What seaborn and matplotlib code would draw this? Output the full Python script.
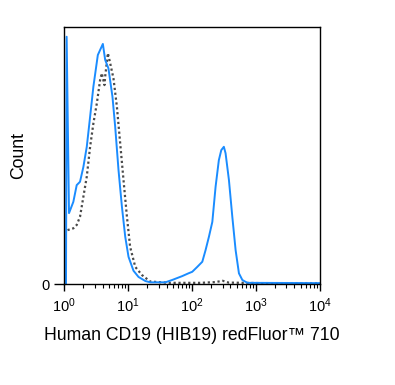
import numpy as np
import pandas as pd
import matplotlib
matplotlib.use('Agg')
import matplotlib.pyplot as plt
import seaborn as sns

sns.set_style('white')
plt.rcParams['font.family'] = ['Liberation Sans', 'DejaVu Sans']
plt.rcParams['mathtext.fontset'] = 'custom'
plt.rcParams['mathtext.rm'] = 'Liberation Sans'
plt.rcParams['text.color'] = 'black'
plt.rcParams['axes.labelcolor'] = 'black'
plt.rcParams['xtick.color'] = 'black'
plt.rcParams['ytick.color'] = 'black'

# stained sample (solid blue)
stained_x = [1.075, 1.10, 1.198, 1.40, 1.58, 1.78, 2.01, 2.27, 2.56, 2.88, 3.38, 4.05,
             4.40, 4.95, 5.72, 6.31, 7.11, 8.04, 9.06, 10.2, 12.2, 14.6, 18.7, 22.3,
             38.4, 48.9, 70.1, 88.1, 101, 121, 145, 163, 184, 208, 234, 263, 287,
             315, 335, 378, 427, 481, 542, 613, 734, 10000]
stained_y = [0, 96.2, 27.6, 32.0, 38.5, 39.8, 45.6, 53.4, 65.1, 76.8, 89.1, 93.4,
             87.2, 83.9, 72.9, 61.2, 44.4, 30.1, 18.4, 10.6, 5.2, 2.8, 1.2, 0.7,
             0.7, 1.6, 3.1, 4.2, 4.8, 6.7, 8.7, 13.2, 18.4, 24.2, 37.9, 48.2, 52.1,
             53.4, 50.9, 40.5, 26.2, 13.2, 4.2, 1.6, 0.5, 0.4]

# unstained control (dotted gray)
control_x = [1.135, 1.40, 1.58, 1.78, 2.01, 2.27, 2.56, 2.88, 3.26, 3.67, 3.90, 4.29,
             4.40, 4.85, 5.27, 5.93, 6.71, 7.56, 8.51, 9.63, 10.8, 13.0, 16.6, 22.3,
             46, 136, 234, 301, 374, 1187, 10000]
control_y = [21.0, 21.7, 23.0, 26.2, 34.0, 41.8, 53.4, 62.5, 70.3, 79.4, 82.0, 77.4,
             80.7, 89.8, 85.9, 80.0, 69.0, 54.7, 40.5, 26.2, 14.5, 6.7, 3.5, 1.0,
             0.5, 0.5, 0.8, 1.3, 0.6, 0.4, 0.4]

xlabel = 'Human CD19 (HIB19) redFluor\u2122 710'
decades = [1, 10, 100, 1000, 10000]

fig = plt.figure(figsize=(3.95, 3.85), dpi=100)
ax = fig.add_axes([0.162, 0.262, 0.648, 0.668])

sns.lineplot(x=control_x, y=control_y, ax=ax, sort=False, color='#4a4a4a',
             linestyle=(0, (1, 1.2)), linewidth=1.6)
sns.lineplot(x=stained_x, y=stained_y, ax=ax, sort=False, color='#1a8cff',
             linewidth=1.4)

ax.set_xscale('log')
ax.set_xlim(1, 10000)
ax.set_ylim(0, 100)
ax.set_xticks(decades)
ax.set_xticklabels([r'$\mathregular{10^{%d}}$' % i for i in range(5)], fontsize=10.5)
ax.xaxis.set_minor_locator(matplotlib.ticker.LogLocator(base=10, subs=np.arange(2, 10)))
ax.xaxis.set_minor_formatter(matplotlib.ticker.NullFormatter())
ax.set_yticks([0])
ax.set_yticklabels(['0'], fontsize=10.5)
ax.tick_params(axis='x', which='major', direction='out', length=5, width=1, bottom=True)
ax.tick_params(axis='x', which='minor', direction='out', length=3, width=0.8, bottom=True)
ax.tick_params(axis='y', direction='out', length=7, width=1, left=True)

for s in ax.spines.values():
    s.set_color('black')
    s.set_linewidth(1)

ax.set_xlabel(xlabel, fontsize=12.7, labelpad=9)
ax.set_ylabel('Count', fontsize=12.7, labelpad=10)

fig.savefig('out.png', dpi=100)
